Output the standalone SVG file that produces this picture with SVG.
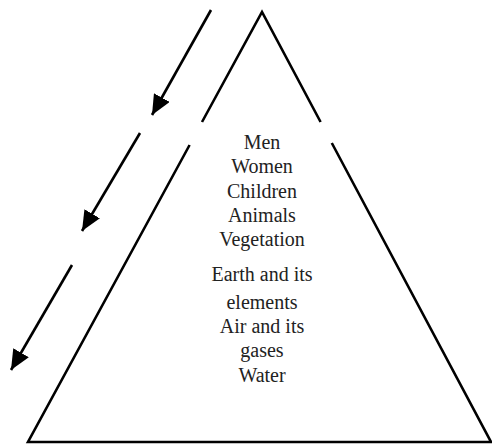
<svg xmlns="http://www.w3.org/2000/svg" width="492" height="445" viewBox="0 0 492 445">
<style>
.edge{stroke:#000;stroke-width:2.6;fill:none;stroke-linecap:butt}
.arrow{stroke:#000;stroke-width:2.6;fill:none}
.lbl{font-family:"Liberation Serif","Times New Roman",serif;font-size:20px;fill:#222;text-anchor:middle}
</style>
<defs>
<marker id="ah" markerUnits="userSpaceOnUse" markerWidth="22" markerHeight="18" refX="20" refY="9" orient="auto">
<path d="M0,0 L20,9 L0,18 Z" fill="#000"/>
</marker>
</defs>
<rect width="492" height="445" fill="#fff"/>
<g id="pyramid">
<path class="edge" d="M202,122 L262,12 L320.6,122"/>
<path class="edge" d="M189.6,145 L28,442 L491,442 L331.8,143"/>
</g>
<g id="labels">
<text class="lbl" x="262" y="149">Men</text>
<text class="lbl" x="262" y="173">Women</text>
<text class="lbl" x="262" y="198">Children</text>
<text class="lbl" x="262" y="222">Animals</text>
<text class="lbl" x="262" y="246">Vegetation</text>
<text class="lbl" x="262" y="281">Earth and its</text>
<text class="lbl" x="262" y="309">elements</text>
<text class="lbl" x="262" y="333">Air and its</text>
<text class="lbl" x="262" y="357">gases</text>
<text class="lbl" x="262" y="382">Water</text>
</g>
<g id="connectors">
<line class="arrow" x1="211" y1="10" x2="152" y2="115" marker-end="url(#ah)"/>
<line class="arrow" x1="140" y1="133" x2="82" y2="231" marker-end="url(#ah)"/>
<line class="arrow" x1="72" y1="265" x2="11" y2="370" marker-end="url(#ah)"/>
</g>
</svg>
